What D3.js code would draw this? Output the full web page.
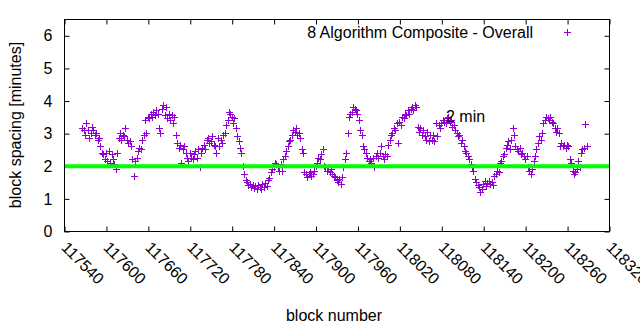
<!DOCTYPE html>
<html><head><meta charset="utf-8">
<script src="https://cdn.jsdelivr.net/npm/d3@7"></script>
<style>
html,body{margin:0;padding:0;background:#fff;}
svg{display:block;font-family:"Liberation Sans",Arial,Helvetica,sans-serif;}
</style></head>
<body><svg id="c" width="640" height="330"></svg>
<script>
// ---- data ----
const seriesName = "8 Algorithm Composite - Overall";
const firstBlock = 117566;   // first plotted block
const blockStep = 2;         // blocks between plotted samples
const spacing = [
3.15,3.1,2.95,3.3,3.1,2.85,3.0,3.2,3.1,2.95,3.0,2.8,2.85,2.6,2.4,2.35,2.2,2.4,2.15,2.45,
2.1,2.35,2.2,2.05,1.9,2.4,2.85,3.0,2.8,2.95,2.9,3.15,2.8,2.7,2.75,2.6,2.2,1.7,2.15,2.25,
2.45,2.55,2.5,2.8,2.95,3.4,3.0,3.5,3.45,3.6,3.5,3.65,3.55,3.7,3.6,3.15,3.0,3.75,3.85,3.55,
3.8,3.45,3.6,3.4,3.55,3.3,3.5,2.95,2.7,2.55,2.65,2.1,2.5,2.6,2.4,2.25,2.15,2.4,2.25,2.2,
2.35,2.45,2.25,2.5,1.95,2.4,2.55,2.65,2.5,2.8,2.85,2.7,2.75,2.9,2.65,2.6,2.4,2.85,2.6,2.8,
2.7,2.95,3.0,3.25,3.4,3.65,3.6,3.5,3.3,3.45,3.15,2.9,2.75,2.55,2.4,2.0,1.75,1.55,1.5,1.4,
1.45,1.35,1.42,1.32,1.38,1.28,1.42,1.35,1.3,1.44,1.36,1.46,1.38,1.55,1.62,1.8,1.9,1.95,2.1,2.05,
1.95,1.85,2.05,1.85,2.2,2.3,2.45,2.6,2.75,2.8,2.95,3.1,3.05,3.15,2.95,3.0,2.85,2.5,2.4,1.8,
1.75,1.65,1.75,1.8,1.7,1.75,1.85,2.0,2.1,2.25,2.2,2.35,2.5,2.0,1.95,1.85,1.95,1.8,1.9,1.75,
1.7,1.65,1.55,1.5,1.6,1.45,1.65,1.95,2.2,2.4,3.0,3.5,3.6,3.65,3.8,3.75,3.7,3.6,3.4,3.1,
2.95,2.6,2.5,2.4,2.25,2.15,2.2,2.1,2.25,1.95,2.3,2.4,2.25,2.4,2.6,2.3,2.2,2.35,2.3,2.65,
2.8,2.95,3.0,3.15,3.1,3.3,2.7,3.35,3.25,3.5,3.45,3.6,3.55,3.7,3.6,3.75,3.8,3.7,3.85,3.8,
3.2,3.05,3.15,2.95,3.1,2.9,2.8,3.05,2.75,2.95,2.8,2.95,2.75,3.3,2.9,3.25,3.15,3.3,3.4,3.35,
3.3,3.45,3.5,3.35,3.4,3.2,3.25,3.1,3.0,2.9,2.95,2.7,2.8,2.6,2.45,2.4,2.3,2.2,2.05,1.95,
1.85,1.6,1.5,1.4,1.35,1.2,1.3,1.45,1.52,1.38,1.46,1.54,1.44,1.5,1.42,1.7,1.75,1.85,1.8,2.1,
2.15,2.3,2.35,2.55,2.65,2.75,2.5,2.8,3.15,2.95,2.6,2.5,2.45,2.55,2.35,2.4,2.3,2.2,2.3,1.95,
1.85,1.75,1.9,2.15,2.3,2.5,2.7,2.9,2.8,3.0,3.3,3.4,3.5,3.45,3.4,3.5,3.35,3.3,3.15,3.05,
3.15,3.0,2.6,2.7,2.6,2.65,2.55,2.65,2.6,2.2,2.1,1.85,1.75,1.8,1.9,2.15,1.95,2.4,2.5,2.55,
3.27,2.6
];
const targetMinutes = 2;
const targetLabel = "2 min";
const targetLabelPos = [118086, 3.35];
const xTicks = [117540,117600,117660,117720,117780,117840,117900,117960,118020,118080,118140,118200,118260,118320];
const yTicks = [0,1,2,3,4,5,6];
const xDomain = [117540, 118320];
const yDomain = [0, 6.5];
const xTitle = "block number";
const yTitle = "block spacing [minutes]";

const points = spacing.map((v, i) => ({block: firstBlock + i * blockStep, v}));

// ---- chart ----
const svg = d3.select("#c");
const L = 64.5, R = 609.5, T = 19.5, B = 231.5;
const purple = "#9400d3";
const x = d3.scaleLinear().domain(xDomain).range([L, R]);
const y = d3.scaleLinear().domain(yDomain).range([B, T]);
const fs = 16;

// axes
const gx = svg.append("g").attr("transform", `translate(0,${B})`)
  .call(d3.axisBottom(x).tickValues(xTicks).tickSize(-5).tickFormat(d3.format("d")));
gx.selectAll("text")
  .attr("x", 0).attr("y", 0).attr("dy", null)
  .attr("text-anchor", "start")
  .attr("transform", "translate(-4.5,17) rotate(45)");
const gxt = svg.append("g").attr("transform", `translate(0,${T})`)
  .call(d3.axisTop(x).tickValues(xTicks).tickSize(-5).tickFormat(""));
const gy = svg.append("g").attr("transform", `translate(${L},0)`)
  .call(d3.axisLeft(y).tickValues(yTicks).tickSize(-5).tickPadding(12).tickFormat(d3.format("d")));
const gyr = svg.append("g").attr("transform", `translate(${R},0)`)
  .call(d3.axisRight(y).tickValues(yTicks).tickSize(-5).tickFormat(""));
[gx, gxt, gy, gyr].forEach(g => {
  g.select(".domain").remove();
  g.selectAll("line").attr("stroke", "#000").attr("stroke-width", 1);
  g.selectAll("text").attr("font-size", fs).attr("fill", "#000")
    .attr("font-family", '"Liberation Sans",Arial,sans-serif');
});

// points
const cross = "M-3.5,0H3.5M0,-3.5V3.5";
svg.append("g").attr("shape-rendering", "crispEdges")
  .selectAll("path").data(points).join("path")
  .attr("d", cross)
  .attr("transform", d => `translate(${Math.floor(x(d.block)) + 0.5},${Math.floor(y(d.v)) + 0.5})`)
  .attr("fill", "none").attr("stroke", purple).attr("stroke-width", 1);

// target line
svg.append("line")
  .attr("x1", L).attr("x2", R)
  .attr("y1", y(targetMinutes)).attr("y2", y(targetMinutes))
  .attr("stroke", "#00ff00").attr("stroke-width", 4);

svg.append("text")
  .attr("x", x(targetLabelPos[0])).attr("y", y(targetLabelPos[1]))
  .attr("font-size", fs).attr("fill", "#000").text(targetLabel);

// border
svg.append("rect").attr("x", L).attr("y", T).attr("width", R - L).attr("height", B - T)
  .attr("fill", "none").attr("stroke", "#000").attr("stroke-width", 1);

// legend
svg.append("text").attr("x", 533).attr("y", 37.5).attr("text-anchor", "end")
  .attr("font-size", fs).attr("fill", "#000").text(seriesName);
svg.append("path").attr("d", cross).attr("transform", "translate(567.5,32.5)")
  .attr("shape-rendering", "crispEdges")
  .attr("fill", "none").attr("stroke", purple).attr("stroke-width", 1);

// axis titles
svg.append("text").attr("x", 334).attr("y", 321).attr("text-anchor", "middle")
  .attr("font-size", fs).attr("fill", "#000").text(xTitle);
svg.append("text").attr("transform", "translate(20.5,125) rotate(-90)")
  .attr("text-anchor", "middle").attr("font-size", fs).attr("fill", "#000").text(yTitle);
</script>
</body></html>
